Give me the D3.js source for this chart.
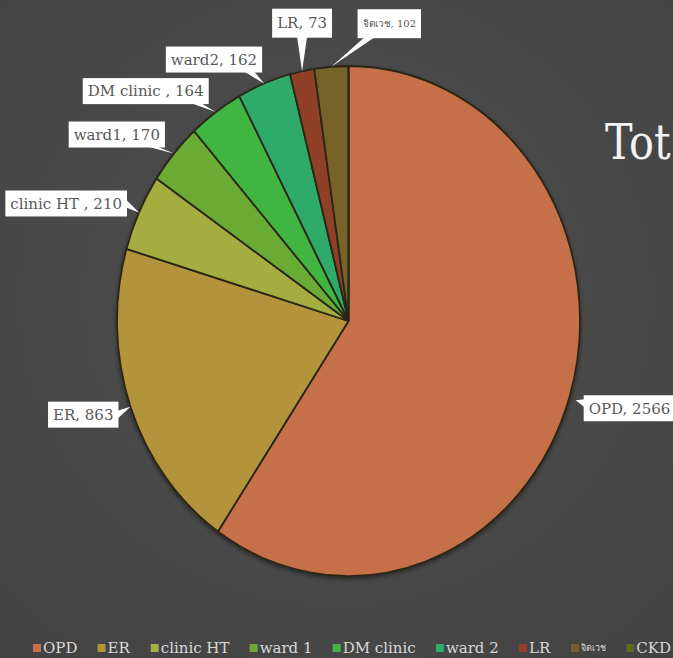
<!DOCTYPE html>
<meta charset="utf-8" />
<style>
  body {
    margin: 0px;
    background: #4a4a4a;
  }
  text {
    font-family: "DejaVu Serif", serif;
  }
  .slice {
    stroke: #2a2614;
    stroke-width: 1.8px;
  }
  .label-box {
    fill: #fff;
  }
  .label-text {
    fill: #595959;
    font-size: 15px;
  }
  .legend text {
    fill: #d9d9d9;
    font-size: 15px;
  }
</style>
<body>
<script src="https://d3js.org/d3.v7.min.js"></script>
<script>
  var width = 673,
    height = 658;

  // data
  var categories = ["OPD", "ER", "clinic HT", "ward1", "DM clinic", "ward2", "LR", "จิตเวช", "CKD"];
  var legendNames = ["OPD", "ER", "clinic HT", "ward 1", "DM clinic", "ward 2", "LR", "จิตเวช", "CKD"];
  var values = [2566, 863, 210, 170, 164, 162, 73, 102, 0];
  var labelTexts = ["OPD, 2566", "ER, 863", "clinic HT , 210", "ward1, 170", "DM clinic , 164", "ward2, 162", "LR, 73", "จิตเวช, 102", ""];
  var colors = ["#c6704a", "#b3933a", "#a3ad40", "#6aab36", "#3fb543", "#2fab6b", "#8f4026", "#77622a", "#5b6a22"];

  // label box placement relative to the slice tip (layout only)
  var labelOffsets = [
    { dx: 8, dy: 8, side: "right" },
    { dx: -12, dy: 8, side: "left" },
    { dx: -12, dy: -9, side: "left" },
    { dx: -9, dy: -19, side: "left" },
    { dx: -7, dy: -21, side: "left" },
    { dx: -2, dy: -24, side: "left" },
    { dx: 0, dy: -48, side: "top" },
    { dx: 58, dy: -43, side: "top" },
    null,
  ];

  var cx = 348.5,
    cy = 321,
    rx = 231.5,
    ry = 255;

  var svg = d3
    .select("body")
    .append("svg")
    .attr("width", width)
    .attr("height", height);

  var defs = svg.append("defs");
  var bg = defs
    .append("radialGradient")
    .attr("id", "bg")
    .attr("cx", "50%")
    .attr("cy", "45%")
    .attr("r", "75%");
  bg.append("stop").attr("offset", "0%").attr("stop-color", "#505050");
  bg.append("stop").attr("offset", "100%").attr("stop-color", "#424242");

  var shadow = defs.append("filter").attr("id", "shadow").attr("x", "-10%").attr("y", "-10%").attr("width", "120%").attr("height", "120%");
  shadow.append("feDropShadow").attr("dx", 0).attr("dy", 2).attr("stdDeviation", 2).attr("flood-color", "#000").attr("flood-opacity", 0.45);

  svg.append("rect").attr("width", width).attr("height", height).attr("fill", "url(#bg)");

  var pie = d3
    .pie()
    .sort(null)
    .value(function (d) {
      return d;
    });
  var arcs = pie(values);

  var arc = d3.arc().innerRadius(0).outerRadius(rx);

  var pieG = svg
    .append("g")
    .attr("transform", "translate(" + cx + "," + cy + ") scale(1," + ry / rx + ")")
    .attr("filter", "url(#shadow)");

  pieG
    .selectAll("path")
    .data(arcs)
    .enter()
    .append("path")
    .attr("class", "slice")
    .attr("d", arc)
    .attr("fill", function (d, i) {
      return colors[i];
    })
    .style("vector-effect", "non-scaling-stroke");

  // labels
  var labelG = svg.append("g");
  arcs.forEach(function (d, i) {
    var off = labelOffsets[i];
    if (!off || !labelTexts[i]) return;
    var mid = (d.startAngle + d.endAngle) / 2;
    var tx = cx + rx * Math.sin(mid) + (off.side == "right" ? 6 : 0),
      ty = cy - ry * Math.cos(mid) + (off.side == "right" ? 4 : 0);

    var g = labelG.append("g");
    var t = g
      .append("text")
      .attr("class", "label-text")
      .style("font-size", i == 7 ? "10px" : null)
      .text(labelTexts[i]);
    var w = t.node().getComputedTextLength() + 10,
      h = i >= 6 ? 29 : 26;

    var bx, by;
    if (off.side == "right") {
      bx = tx + off.dx;
      by = ty + off.dy - h / 2;
    } else if (off.side == "left") {
      bx = tx + off.dx - w;
      by = ty + off.dy - h / 2;
    } else {
      bx = tx + off.dx - w / 2;
      by = ty + off.dy - h / 2;
    }

    // callout pointer
    var base;
    if (off.side == "right") {
      base = [[bx + 1, by + 4], [bx + 1, by + 12]];
    } else if (off.side == "left") {
      base = [[bx + w - 1, by + h / 2 - 4], [bx + w - 1, by + h / 2 + 4]];
      if (off.dy < -15) base = [[bx + w - 18, by + h - 1], [bx + w - 8, by + h - 1]];
    } else {
      var px = Math.max(bx + 8, Math.min(bx + w - 8, tx));
      if (i == 7) px = bx + 12;
      base = [[px - 5, by + h - 1], [px + 5, by + h - 1]];
    }
    g.append("path")
      .attr("class", "label-box")
      .attr("d", d3.line()([base[0], [tx, ty], base[1]]) + "Z");

    g.insert("rect", "text")
      .attr("class", "label-box")
      .attr("x", bx)
      .attr("y", by)
      .attr("width", w)
      .attr("height", h);

    t.attr("x", bx + 5)
      .attr("y", by + h / 2)
      .attr("dy", "0.35em");
    t.raise();
  });

  // title, only its start is inside the picture
  svg
    .append("text")
    .attr("transform", "translate(605,159) scale(1,1.05)")
    .attr("fill", "#f2f2f2")
    .style("font-family", "'DejaVu Serif Condensed', 'DejaVu Serif', serif")
    .style("font-size", "46px")
    .text("Tot");

  // legend
  var legend = svg.append("g").attr("class", "legend");
  var items = legend
    .selectAll("g")
    .data(legendNames)
    .enter()
    .append("g");
  items
    .append("rect")
    .attr("width", 8)
    .attr("height", 8)
    .attr("y", -4)
    .attr("fill", function (d, i) {
      return colors[i];
    });
  items
    .append("text")
    .attr("x", 10)
    .attr("dy", "0.35em")
    .style("font-size", function (d, i) {
      return i == 7 ? "9px" : null;
    })
    .text(function (d) {
      return d;
    });

  var widths = [];
  items.each(function () {
    widths.push(this.getBBox().width);
  });
  var x0 = 33,
    x1 = 671;
  var total = d3.sum(widths);
  var gap = (x1 - x0 - total) / (widths.length - 1);
  var pos = x0;
  items.attr("transform", function (d, i) {
    var p = pos;
    pos += widths[i] + gap;
    return "translate(" + p + ",648)";
  });
</script>
</body>
